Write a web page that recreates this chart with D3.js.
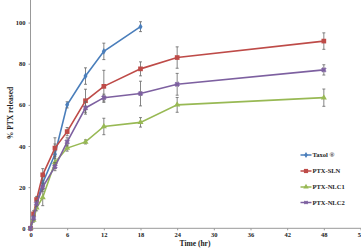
<!DOCTYPE html>
<html><head><meta charset="utf-8">
<script src="https://cdn.jsdelivr.net/npm/d3@7"></script>
<style>body{margin:0;background:#fff}svg{display:block}text{font-family:"Liberation Serif","Times New Roman",serif;font-weight:bold;fill:#222}</style>
</head><body><svg id="c" width="361" height="252"></svg>
<script>
const xTicks = [0,6,12,18,24,30,36,42,48,54];
const yTicks = [0,20,40,60,80,100];
const seriesNames = ["Taxol \u00AE","PTX-SLN","PTX-NLC1","PTX-NLC2"];
const taxolT = [0,0.5,1,2,4,6,9,12,18];
const taxolV = [0,5,12,22,36,60,74,86,98];
const taxolE = [0,1.5,2,3,5,1.5,4,4,2.4];
const slnT = [0,0.5,1,2,4,6,9,12,18,24,48];
const slnV = [0,7,14,26,39,47,62,69,77.5,83,91];
const slnE = [0,1.5,1.5,3,5,2,5.6,7.8,3.4,5.2,4];
const nlc1T = [0,0.5,1,2,4,6,9,12,18,24,48];
const nlc1V = [0,4,10,15,32,39,42,49.5,51.5,60,63.5];
const nlc1E = [0,1,1.5,4,3,1.5,1,4,2.3,3.6,4.2];
const nlc2T = [0,0.5,1,2,4,6,9,12,18,24,48];
const nlc2V = [0,5,12,20,30,42,58.5,63.5,65.5,70,77];
const nlc2E = [0,1,1.5,2,2,2,3,1.7,6,5.3,2.5];

const colors = ["#4A7EBB","#BE4B48","#98B954","#7D60A0"];
const shapes = [d3.symbolDiamond, d3.symbolSquare, d3.symbolTriangle, d3.symbolCross];
const sizes = [14, 22, 16, 14];
const series = [
  {name:seriesNames[0], t:taxolT, v:taxolV, e:taxolE},
  {name:seriesNames[1], t:slnT, v:slnV, e:slnE},
  {name:seriesNames[2], t:nlc1T, v:nlc1V, e:nlc1E},
  {name:seriesNames[3], t:nlc2T, v:nlc2V, e:nlc2E}
];

const svg = d3.select("#c");
const x = d3.scaleLinear().domain([0,54]).range([30.5,360.5]);
const y = d3.scaleLinear().domain([0,110]).range([228.3,2]);

// axes
const xa = svg.append("g").attr("transform","translate(0,228.3)")
  .call(d3.axisBottom(x).tickValues(xTicks).tickSize(2).tickPadding(2));
const ya = svg.append("g").attr("transform","translate(30.5,0)")
  .call(d3.axisLeft(y).tickValues(yTicks).tickSize(2).tickPadding(3));
[xa,ya].forEach(a=>{
  a.select(".domain").attr("stroke","#999").attr("stroke-width",1);
  a.selectAll(".tick line").attr("stroke","#999");
  a.selectAll("text").style("font-size","6.5px").attr("fill","#222");
});
ya.select(".domain").attr("d","M0,0V228.3");
xa.select(".domain").attr("d","M30.5,0H361");

svg.append("text").attr("x",195).attr("y",246).attr("text-anchor","middle")
  .style("font-size","7.5px").text("Time (hr)");
svg.append("text").attr("transform","translate(13,113) rotate(-90)").attr("text-anchor","middle")
  .style("font-size","7.5px").text("% PTX released");

const line = d3.line().x(d=>x(d[0])).y(d=>y(d[1]));
series.forEach((s,i)=>{
  const pts = s.t.map((t,j)=>[t,s.v[j],s.e[j]]);
  const g = svg.append("g");
  g.append("path").datum(pts).attr("d",line).attr("fill","none")
    .attr("stroke",colors[i]).attr("stroke-width",1.6);
  // error bars
  pts.filter(p=>p[2]>0).forEach(p=>{
    const cx=x(p[0]), y1=y(p[1]+p[2]), y2=y(p[1]-p[2]);
    g.append("path").attr("d",`M${cx},${y1}V${y2}M${cx-1.5},${y1}H${cx+1.5}M${cx-1.5},${y2}H${cx+1.5}`)
      .attr("stroke","#666").attr("stroke-width",0.8).attr("fill","none");
  });
  g.selectAll(".m").data(pts).enter().append("path")
    .attr("transform",p=>`translate(${x(p[0])},${y(p[1])})${i===3?" rotate(45)":""}`)
    .attr("d",d3.symbol().type(shapes[i]).size(sizes[i]))
    .attr("fill",colors[i]).attr("stroke",colors[i]).attr("stroke-width",i===3?0.5:0);
});

// legend
const ly = [155,171,187,202.5];
series.forEach((s,i)=>{
  const g = svg.append("g").attr("transform",`translate(0,${ly[i]})`);
  g.append("line").attr("x1",300.5).attr("x2",311.5).attr("y1",0).attr("y2",0)
    .attr("stroke",colors[i]).attr("stroke-width",1.5);
  g.append("path").attr("transform",`translate(306,0)${i===3?" rotate(45)":""}`)
    .attr("d",d3.symbol().type(shapes[i]).size(sizes[i]*0.8)).attr("fill",colors[i]);
  g.append("text").attr("x",312.5).attr("y",2.3).style("font-size","6.5px").text(s.name);
});
</script></body></html>
